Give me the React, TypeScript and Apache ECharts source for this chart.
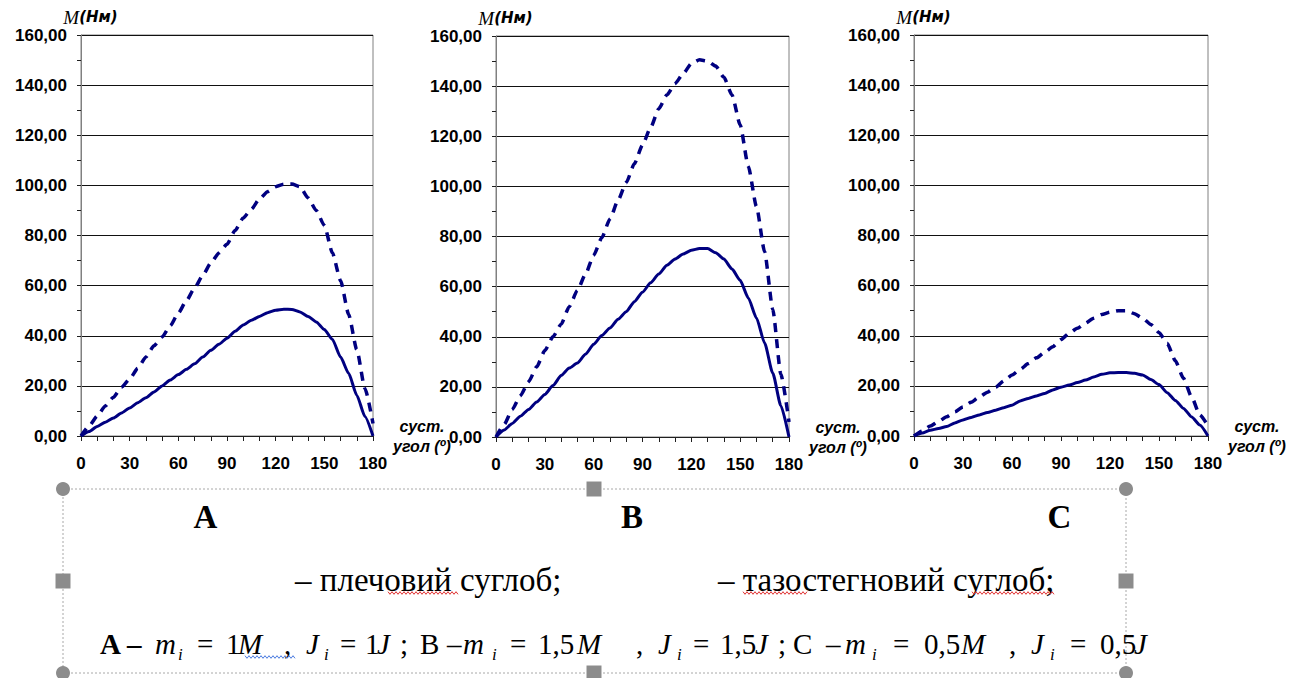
import React, { useEffect, useRef } from "react";
import * as echarts from "echarts";

// ---------- data ----------
const ANGLES = [0, 5, 10, 15, 20, 25, 30, 35, 40, 45, 50, 55, 60, 65, 70, 75, 80, 85, 90, 95, 100, 105, 110, 115, 120, 125, 130, 135, 140, 145, 150, 155, 160, 165, 170, 175, 180];

const SHOULDER_A = [0, 1.8, 3.8, 5.5, 7.2, 9.2, 11.2, 13.3, 15.3, 17.6, 20, 22.3, 24.5, 26.6, 28.8, 31.5, 34.2, 36.6, 39, 41.8, 44.3, 46.2, 47.7, 49.2, 50.2, 50.6, 50.5, 49.5, 47.7, 45.5, 42.5, 38.5, 31.5, 25, 16.3, 7.8, 0];
const HIP_A = [0, 4, 8, 12, 15.5, 19.5, 22.7, 27, 31.5, 36, 39.5, 44, 49, 54, 59, 64, 69, 73, 76.5, 82, 87, 90.5, 94.5, 97.5, 99.5, 100.5, 100.5, 99.5, 95, 90, 84, 73, 62, 48.5, 34.5, 19, 5];

const SHOULDER_B = [0, 2.8, 5.4, 8.3, 11, 14, 17, 20.5, 24.5, 27.5, 29.5, 33, 37, 40.5, 43.5, 47, 50, 54, 57.8, 61.5, 65, 68.5, 71, 73, 74.5, 75.2, 75.2, 73.5, 71, 67, 62.5, 55.5, 47.5, 37.5, 25.5, 12.5, 0];
const HIP_B = [0, 5, 11, 16.5, 22, 28, 34.5, 40, 45, 52, 58.5, 65, 72.5, 79.5, 87, 94.5, 101.5, 109, 116.5, 123.5, 131, 136.5, 141, 145, 149, 150.5, 150, 148, 143.5, 136.5, 124.5, 108, 92, 74, 51, 25, 6];

const SHOULDER_C = [0, 1.2, 2.3, 3, 3.8, 5.2, 6.4, 7.4, 8.4, 9.4, 10.3, 11.3, 12.3, 14, 15, 16, 17, 18.4, 19.5, 20.3, 21.3, 22.3, 23.5, 24.6, 25.2, 25.3, 25.3, 25, 24.3, 22.5, 20.5, 17.3, 14.2, 11, 7.6, 4.4, 0];
const HIP_C = [0, 2, 4, 5.8, 7.7, 9.6, 11.6, 13.5, 15.6, 17.5, 19.5, 22, 24.3, 26.6, 28.9, 31.2, 33.4, 35.6, 38.5, 41, 43, 45, 47, 48.5, 49.4, 50, 50, 48.8, 47, 44.5, 41.3, 37, 30, 23, 15.5, 8.4, 4];

const SHOULDER_SERIES = [SHOULDER_A, SHOULDER_B, SHOULDER_C];
const HIP_SERIES = [HIP_A, HIP_B, HIP_C];

const X_MIN = 0;
const X_MAX = 180;
const X_STEP = 30;
const Y_MIN = 0;
const Y_MAX = 160;
const Y_STEP = 20;

const Y_NAME_M = "M";
const Y_NAME_UNIT = "(Нм)";
const X_NAME = "суст.\nугол (º)";
const PANEL_LABELS = ["A", "B", "C"];
const SHOULDER_NAME = "плечовий суглоб";
const HIP_NAME = "тазостегновий суглоб";
const LEGEND_SHOULDER = "– плечовий суглоб;";
const LEGEND_HIP = "– тазостегновий суглоб;";

// ---------- layout ----------
const PANELS = [
  { left: 81, top: 35, width: 292, height: 401, labelX: 205.5 },
  { left: 496, top: 36, width: 293, height: 401, labelX: 632 },
  { left: 914, top: 35, width: 294, height: 401, labelX: 1059.5 },
];

const ARIAL = '"Liberation Sans", Arial, sans-serif';
const WIDE = '"DejaVu Sans", Verdana, sans-serif';
const SERIF = '"Liberation Serif", "Times New Roman", serif';
const NAVY = "#000080";

// formula tokens: text, style kind, left x
const FORMULA = [
  ["A", "b", 100], ["–", "b", 127], ["m", "it", 155], ["i", "sub", 178],
  ["=", "n", 197], ["1", "n", 226], ["M", "it", 238], [",", "n", 284],
  ["J", "it", 306], ["i", "sub", 324], ["=", "n", 340], ["1", "n", 365], ["J", "it", 377], [";", "n", 400],
  ["B", "n", 420], ["–", "n", 447], ["m", "it", 463], ["i", "sub", 492],
  ["=", "n", 510], ["1,5", "n", 538], ["M", "it", 577], [",", "n", 636],
  ["J", "it", 658], ["i", "sub", 677], ["=", "n", 693], ["1,5", "n", 720], ["J", "it", 755], [";", "n", 778],
  ["C", "n", 793], ["–", "n", 826], ["m", "it", 845], ["i", "sub", 872],
  ["=", "n", 893], ["0,5", "n", 924], ["M", "it", 961], [",", "n", 1009],
  ["J", "it", 1031], ["i", "sub", 1050], ["=", "n", 1070], ["0,5", "n", 1100], ["J", "it", 1134],
] as const;

function fmt(v: number) {
  return v.toFixed(2).replace(".", ",");
}

function wavy(x1: number, x2: number, y: number, color: string) {
  const pts: number[][] = [];
  let k = 0;
  for (let x = x1; x <= x2; x += 2) {
    pts.push([x, y + (k % 2 ? 1.3 : -1.3)]);
    k++;
  }
  return {
    type: "polyline",
    silent: true,
    shape: { points: pts },
    style: { stroke: color, lineWidth: 1, fill: "none" },
  };
}

function buildOption() {
  const grid = PANELS.map((p) => ({
    left: p.left,
    top: p.top,
    width: p.width,
    height: p.height,
    show: true,
    borderColor: "#808080",
    borderWidth: 1,
    backgroundColor: "transparent",
    containLabel: false,
  }));

  const xAxis = PANELS.map((_, i) => ({
    type: "value",
    gridIndex: i,
    min: X_MIN,
    max: X_MAX,
    interval: X_STEP,
    name: X_NAME,
    nameLocation: "end",
    nameGap: 36,
    nameTextStyle: {
      fontFamily: ARIAL,
      fontWeight: "bold",
      fontStyle: "italic",
      fontSize: 16,
      color: "#000",
      align: "center",
      verticalAlign: "middle",
      lineHeight: 20,
      padding: [0, 0, 10, 0],
    },
    axisLine: { show: true, lineStyle: { color: "#202020", width: 1 } },
    axisTick: { show: true, length: 5, lineStyle: { color: "#202020" } },
    minorTick: { show: true, splitNumber: 3, length: 5, lineStyle: { color: "#202020" } },
    splitLine: { show: false },
    axisLabel: {
      margin: 19,
      fontFamily: ARIAL,
      fontWeight: "bold",
      fontSize: 17,
      color: "#000",
      showMinLabel: true,
      showMaxLabel: true,
    },
  }));

  const yAxis = PANELS.map((_, i) => ({
    type: "value",
    gridIndex: i,
    min: Y_MIN,
    max: Y_MAX,
    interval: Y_STEP,
    name: `{m|${Y_NAME_M}}{u|${Y_NAME_UNIT}}`,
    nameLocation: "end",
    nameGap: 7,
    nameTextStyle: {
      align: "center",
      verticalAlign: "bottom",
      padding: [0, 0, 0, 19],
      rich: {
        m: { fontFamily: SERIF, fontStyle: "italic", fontSize: 19, color: "#000", lineHeight: 20 },
        u: { fontFamily: WIDE, fontStyle: "italic", fontWeight: "bold", fontSize: 15, color: "#000", lineHeight: 20 },
      },
    },
    axisLine: { show: true, lineStyle: { color: "#808080", width: 1 } },
    axisTick: { show: true, length: 4, lineStyle: { color: "#202020" } },
    minorTick: { show: true, splitNumber: 2, length: 4, lineStyle: { color: "#202020" } },
    splitLine: { show: true, lineStyle: { color: "#111111", width: 1 } },
    axisLabel: {
      margin: 14,
      fontFamily: ARIAL,
      fontWeight: "bold",
      fontSize: 17,
      color: "#000",
      formatter: (v: number) => fmt(v),
    },
  }));

  const series: any[] = [];
  PANELS.forEach((_, i) => {
    series.push({
      type: "line",
      name: SHOULDER_NAME,
      xAxisIndex: i,
      yAxisIndex: i,
      data: ANGLES.map((a, k) => [a, SHOULDER_SERIES[i][k]]),
      showSymbol: false,
      symbol: "none",
      smooth: 0.2,
      smoothMonotone: "x",
      lineStyle: { color: NAVY, width: 3 },
      z: 3,
    });
    series.push({
      type: "line",
      name: HIP_NAME,
      xAxisIndex: i,
      yAxisIndex: i,
      data: ANGLES.map((a, k) => [a, HIP_SERIES[i][k]]),
      showSymbol: false,
      symbol: "none",
      smooth: 0.2,
      smoothMonotone: "x",
      lineStyle: { color: NAVY, width: 3.5, type: [9, 7], cap: "butt" },
      z: 3,
    });
  });

  const graphics: any[] = [];
  // selection box (dotted)
  graphics.push({
    type: "rect",
    silent: true,
    shape: { x: 63, y: 489, width: 1063, height: 184 },
    style: { fill: "none", stroke: "#a8a8a8", lineWidth: 1, lineDash: [2, 2] },
  });
  const handleColor = "#8c8c8c";
  [[63, 489], [1126, 489], [63, 673], [1126, 673]].forEach(([cx, cy]) =>
    graphics.push({ type: "circle", silent: true, shape: { cx, cy, r: 7 }, style: { fill: handleColor } })
  );
  [[594, 489], [594, 673], [63, 581], [1126, 581]].forEach(([cx, cy]) =>
    graphics.push({ type: "rect", silent: true, shape: { x: cx - 7.5, y: cy - 7.5, width: 15, height: 15 }, style: { fill: handleColor } })
  );

  // panel labels
  PANELS.forEach((p, i) =>
    graphics.push({
      type: "text",
      silent: true,
      style: {
        text: PANEL_LABELS[i],
        x: p.labelX,
        y: 517,
        align: "center",
        verticalAlign: "middle",
        fontFamily: SERIF,
        fontWeight: "bold",
        fontSize: 33,
        fill: "#000",
      },
    })
  );

  // legend lines
  graphics.push({
    type: "text",
    silent: true,
    style: { text: LEGEND_SHOULDER, x: 295, y: 579.5, align: "left", verticalAlign: "middle", fontFamily: SERIF, fontSize: 33, fill: "#000" },
  });
  graphics.push({
    type: "text",
    silent: true,
    style: { text: LEGEND_HIP, x: 718, y: 579.5, align: "left", verticalAlign: "middle", fontFamily: SERIF, fontSize: 33, fill: "#000" },
  });

  // formula line
  FORMULA.forEach(([t, kind, x]) => {
    const isSub = kind === "sub";
    graphics.push({
      type: "text",
      silent: true,
      style: {
        text: t,
        x,
        y: isSub ? 654 : 643.5,
        align: "left",
        verticalAlign: "middle",
        fontFamily: SERIF,
        fontSize: isSub ? 17 : 29,
        fontWeight: kind === "b" ? "bold" : "normal",
        fontStyle: kind === "it" || isSub ? "italic" : "normal",
        fill: "#000",
      },
    });
  });

  // spell-check squiggles
  graphics.push(wavy(388, 458, 593, "#e03030"));
  graphics.push(wavy(743, 807, 593, "#e03030"));
  graphics.push(wavy(972, 1055, 593, "#e03030"));
  graphics.push(wavy(245, 295, 657, "#4a7be0"));

  return {
    animation: false,
    backgroundColor: "#ffffff",
    grid,
    xAxis,
    yAxis,
    series,
    graphic: graphics,
  };
}

export default function App() {
  const ref = useRef<HTMLDivElement>(null);
  useEffect(() => {
    if (!ref.current) return;
    const chart = echarts.init(ref.current, undefined, { renderer: "svg" });
    chart.setOption(buildOption() as any);
    return () => chart.dispose();
  }, []);
  return (
    <div
      ref={ref}
      style={{ position: "absolute", left: 0, top: 0, width: 1290, height: 678, background: "#fff" }}
    />
  );
}
